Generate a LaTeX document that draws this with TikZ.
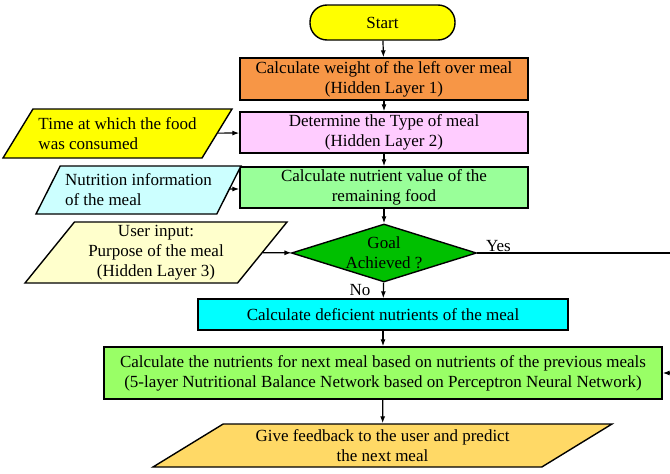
\documentclass[tikz,border=0pt]{standalone}
\usepackage{fontspec}
\setmainfont{Liberation Serif}
\usetikzlibrary{shapes.geometric,arrows.meta}
\definecolor{startyellow}{RGB}{255,255,0}
\definecolor{weightorange}{RGB}{247,150,70}
\definecolor{typepink}{RGB}{255,204,255}
\definecolor{nutrientgreen}{RGB}{153,255,153}
\definecolor{infocyan}{RGB}{204,255,255}
\definecolor{purposecream}{RGB}{255,255,204}
\definecolor{goalgreen}{RGB}{0,192,0}
\definecolor{deficientcyan}{RGB}{0,255,255}
\definecolor{balancegreen}{RGB}{153,255,102}
\definecolor{feedbackgold}{RGB}{255,217,102}
\tikzset{
  every node/.style={font=\fontsize{17}{20}\selectfont},
  terminal/.style={draw, line width=1.4pt, rectangle, rounded corners=17pt, minimum width=145pt, minimum height=35pt},
  process/.style={draw, line width=1.4pt, rectangle, align=center, inner sep=0pt},
  inout/.style={draw, line width=1.4pt, trapezium, trapezium stretches body, inner sep=0pt},
  decision/.style={draw, line width=1.4pt, diamond, inner sep=0pt},
  flow/.style={line width=1.2pt, -{Latex[length=7pt,width=5pt]}}
}
\begin{document}
\begin{tikzpicture}[x=1pt,y=-1pt]
\useasboundingbox (0,0) rectangle (670,474);
\node[terminal, fill=startyellow] (start) at (382.5,22.5) {Start};
\node[process, fill=weightorange, minimum width=288pt, minimum height=42pt] (weight) at (384,79) {Calculate weight of the left over meal\\(Hidden Layer 1)};
\node[process, fill=typepink, minimum width=288pt, minimum height=41pt] (type) at (384,132.5) {Determine the Type of meal\\(Hidden Layer 2)};
\node[process, fill=nutrientgreen, minimum width=288pt, minimum height=41pt] (nutrient) at (384,187.5) {Calculate nutrient value of the\\remaining food};
\node[decision, fill=goalgreen, minimum width=185pt, minimum height=58pt, label={[align=center]center:Goal\\Achieved ?}] (goal) at (384,253) {};
\node[process, fill=deficientcyan, minimum width=370pt, minimum height=31pt] (deficient) at (383,314.5) {Calculate deficient nutrients of the meal};
\node[process, fill=balancegreen, minimum width=558pt, minimum height=52pt] (balance) at (383,373) {Calculate the nutrients for next meal based on nutrients of the previous meals\\(5-layer Nutritional Balance Network based on Perceptron Neural Network)};
\node[inout, fill=startyellow, align=left, trapezium left angle=47, trapezium right angle=133, minimum width=229pt, minimum height=49pt] (time) at (117.5,133.5) {Time at which the food\\was consumed};
\node[inout, fill=infocyan, align=left, trapezium left angle=53, trapezium right angle=127, minimum width=205pt, minimum height=48pt] (info) at (138.5,190) {Nutrition information\\of the meal};
\node[inout, fill=purposecream, align=center, trapezium left angle=48, trapezium right angle=132, minimum width=262pt, minimum height=61pt] (purpose) at (156,252.5) {User input:\\Purpose of the meal\\(Hidden Layer 3)};
\node[inout, fill=feedbackgold, align=center, trapezium left angle=24.6, trapezium right angle=155.4, minimum width=459pt, minimum height=43pt] (feedback) at (382.5,445.5) {Give feedback to the user and predict\\the next meal};
\coordinate (yesturn) at (690,253);
\draw[flow] (start) -- (weight);
\draw[flow] (weight) -- (type);
\draw[flow] (type) -- (nutrient);
\draw[flow] (nutrient) -- (goal);
\draw[flow] (time) -- (type);
\draw[flow] (info) -- (nutrient);
\draw[flow] (purpose) -- (goal);
\draw[flow] (goal) -- node[left=9pt] {No} (deficient);
\draw[flow] (deficient) -- (balance);
\draw[flow] (balance) -- (feedback);
\draw[flow] (goal.east) -- node[pos=0.1, above, inner sep=1pt] {Yes} (yesturn) |- (balance.east);
\end{tikzpicture}
\end{document}
